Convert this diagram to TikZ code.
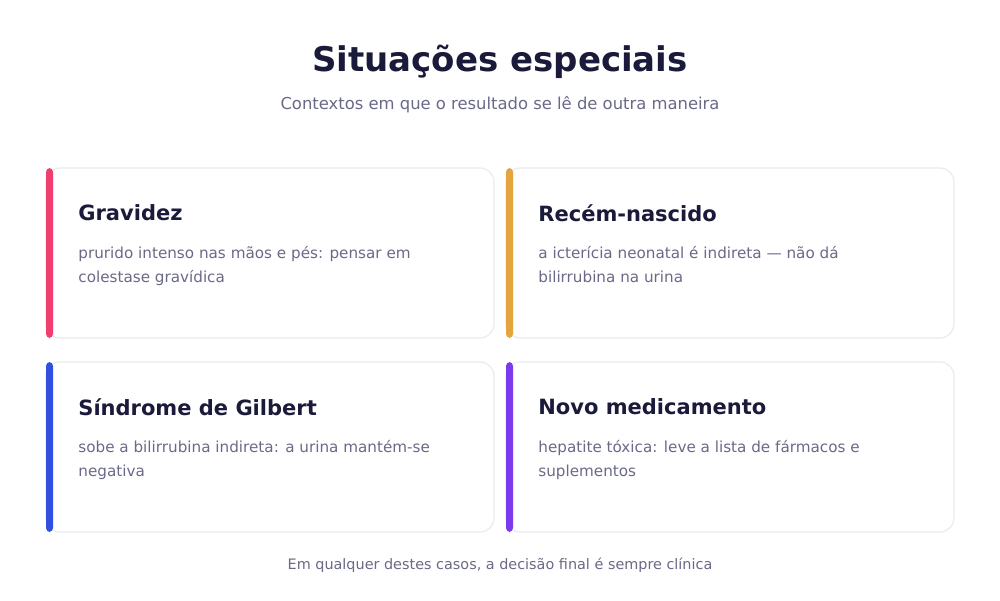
\documentclass[tikz,border=0pt]{standalone}
\usepackage{fontspec}
\setmainfont{DejaVu Sans}
\usetikzlibrary{positioning}
\definecolor{ink}{HTML}{1A1A3A}
\definecolor{muted}{HTML}{6A6A88}
\definecolor{edge}{HTML}{EBEBF0}
\definecolor{cPink}{HTML}{F03E6E}
\definecolor{cOrange}{HTML}{E5A53D}
\definecolor{cBlue}{HTML}{3050E0}
\definecolor{cPurple}{HTML}{7C3AED}
\tikzset{
  card/.style={draw=edge,line width=0.6pt,fill=white,rounded corners=7pt},
  bar/.style={rounded corners=2pt},
  cardtitle/.style={anchor=west,inner sep=0pt,text=ink,font=\fontsize{10.5}{12}\selectfont\bfseries},
  cardtext/.style={anchor=north west,inner sep=0pt,text=muted,align=left,
    font=\fontsize{7.6}{12}\selectfont}
}
\begin{document}
\begin{tikzpicture}[x=0.5pt,y=-0.5pt]
\useasboundingbox[fill=white] (0,0) rectangle (1000,600);

\node[text=ink,font=\fontsize{17}{20}\selectfont\bfseries] (title) at (500,62) {Situações especiais};
\node[text=muted,font=\fontsize{8.2}{10}\selectfont] (subtitle) at (500,105) {Contextos em que o resultado se lê de outra maneira};

% cards
\foreach \x/\y/\col/\name/\head/\body in {
  46/168/cPink/grav/Gravidez/{prurido intenso nas mãos e pés: pensar em\\colestase gravídica},
  506/168/cOrange/recem/Recém-nascido/{a icterícia neonatal é indireta — não dá\\bilirrubina na urina},
  46/362/cBlue/gilb/Síndrome de Gilbert/{sobe a bilirrubina indireta: a urina mantém-se\\negativa},
  506/362/cPurple/medic/Novo medicamento/{hepatite tóxica: leve a lista de fármacos e\\suplementos}} {
  \draw[card] (\x,\y) rectangle ++(448,170);
  \fill[\col,bar] (\x,\y) rectangle ++(7,170);
  \node[cardtitle] (\name-head) at (\x+32,\y+45) {\head};
  \node[cardtext] (\name-body) at (\x+32,\y+78) {\body};
}

\node[text=muted,font=\fontsize{7.2}{9}\selectfont] (foot) at (500,565) {Em qualquer destes casos, a decisão final é sempre clínica};
\end{tikzpicture}
\end{document}
